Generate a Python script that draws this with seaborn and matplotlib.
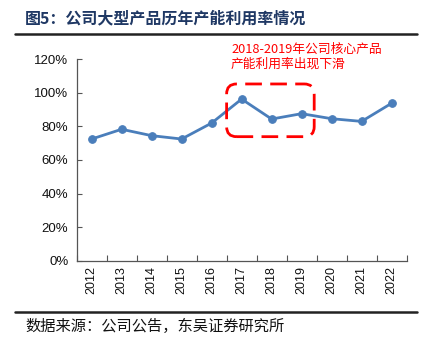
import matplotlib
matplotlib.use("Agg")
import matplotlib.pyplot as plt
from matplotlib.patches import FancyBboxPatch
from matplotlib.lines import Line2D
from matplotlib.ticker import FixedLocator, PercentFormatter
import numpy as np
import pandas as pd
import seaborn as sns

# Capacity utilisation by year (%)
years = ["2012", "2013", "2014", "2015", "2016", "2017",
         "2018", "2019", "2020", "2021", "2022"]
utilization = [72.5, 78.3, 74.5, 72.5, 82.0, 96.3, 84.4, 87.6, 84.6, 83.0, 93.8]
y_ticks = [0, 20, 40, 60, 80, 100, 120]

title = "图5：公司大型产品历年产能利用率情况"
note_lines = ["2018-2019年公司核心产品", "产能利用率出现下滑"]
source = "数据来源：公司公告，东吴证券研究所"

sns.set_theme(style="white")
plt.rcParams["font.family"] = ["Liberation Sans", "Noto Sans CJK SC", "DejaVu Sans"]

df = pd.DataFrame({"year": np.arange(len(years)), "util": utilization})

fig = plt.figure(figsize=(4.33, 3.48), dpi=100)
ax = fig.add_axes([0.177, 0.2509, 0.762, 0.5787])

line_color = "#4A7EBB"
sns.lineplot(data=df, x="year", y="util", ax=ax, color=line_color,
             linewidth=2.0, marker="o", markersize=5.5,
             markeredgecolor=line_color, markerfacecolor=line_color)

ax.set_xlim(-0.5, len(years) - 0.5)
ax.set_ylim(0, 120)
ax.set_xlabel("")
ax.set_ylabel("")

# Category labels centred, tick marks between categories
ax.set_xticks(np.arange(len(years)))
ax.set_xticklabels(years, rotation=90, fontsize=9, color="#111111")
ax.xaxis.set_minor_locator(FixedLocator(np.arange(len(years) + 1) - 0.5))
ax.tick_params(axis="x", which="major", length=0, pad=4)
ax.tick_params(axis="x", which="minor", direction="in", length=4,
               width=0.8, color="#555555", bottom=True)

ax.set_yticks(y_ticks)
ax.yaxis.set_major_formatter(PercentFormatter(decimals=0))
ax.tick_params(axis="y", which="major", direction="in", length=3.5,
               width=0.8, color="#555555", labelsize=9.5, labelcolor="#111111",
               pad=6, left=True)

for side in ["top", "right"]:
    ax.spines[side].set_visible(False)
for side in ["left", "bottom"]:
    ax.spines[side].set_color("#555555")
    ax.spines[side].set_linewidth(0.9)

# Dashed rounded box around the 2017-2019 stretch
x0, x1 = 4.5, 7.42
y0, y1 = 73.9, 105.3
r_x = 0.33
aspect = (10 / 1.678) / r_x
box = FancyBboxPatch((x0, y0), x1 - x0, y1 - y0,
                     boxstyle=f"round,pad=0,rounding_size={r_x}",
                     mutation_aspect=aspect, fill=False,
                     edgecolor="#FF0000", linewidth=2.0,
                     linestyle=(0, (6, 3)), clip_on=False, zorder=5)
ax.add_patch(box)

for i, txt in enumerate(note_lines):
    fig.text(231 / 433, 1 - (49 + i * 15) / 348, txt, color="#FF0000",
             fontsize=9.2, va="center", ha="left",
             family=["Noto Sans CJK SC", "DejaVu Sans"])

fig.text(25 / 433, 1 - 18 / 348, title, fontsize=11.5, fontweight="bold",
         color="#1F3864", va="center", ha="left",
         family=["Noto Sans CJK SC", "DejaVu Sans"])

fig.add_artist(Line2D([15 / 433, 417 / 433], [1 - 33.5 / 348] * 2,
                      color="#222222", linewidth=1.8, transform=fig.transFigure))
fig.add_artist(Line2D([15 / 433, 417 / 433], [1 - 312 / 348] * 2,
                      color="#222222", linewidth=1.8, transform=fig.transFigure))

fig.text(25 / 433, 1 - 326 / 348, source, fontsize=11, color="#111111",
         va="center", ha="left", family=["Noto Sans CJK SC", "DejaVu Sans"])

fig.savefig("out.png", dpi=100)
